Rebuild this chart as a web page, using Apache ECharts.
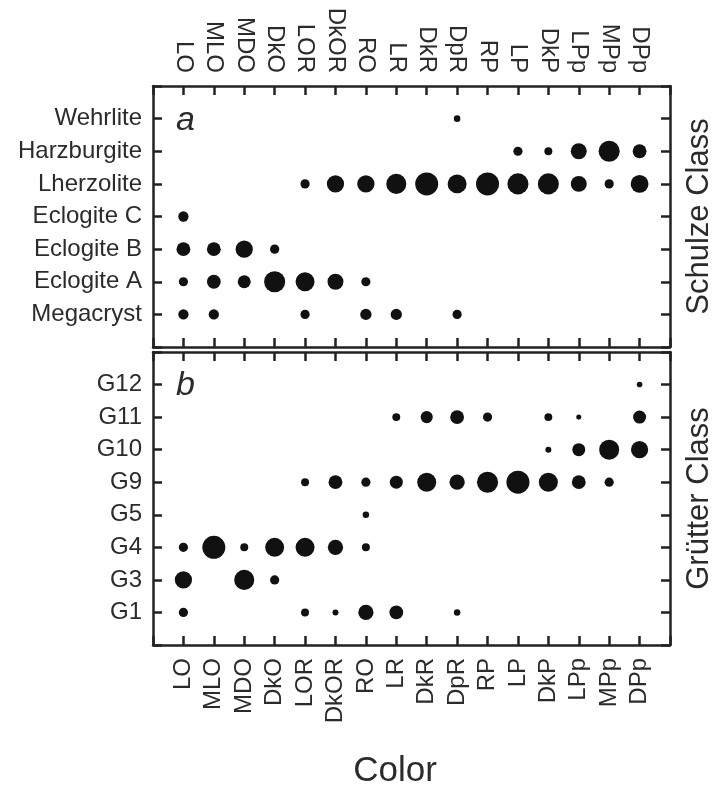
<!DOCTYPE html>
<html>
<head>
<meta charset="utf-8">
<script src="https://cdn.jsdelivr.net/npm/echarts@6/dist/echarts.min.js"></script>
<style>
  html, body { margin: 0; padding: 0; background: #fff; }
  #chart { width: 715px; height: 789px; }
</style>
</head>
<body>
<div id="chart"></div>
<script>
// colour categories (x axis)
var colors = ['LO', 'MLO', 'MDO', 'DkO', 'LOR', 'DkOR', 'RO', 'LR', 'DkR', 'DpR', 'RP', 'LP', 'DkP', 'LPp', 'MPp', 'DPp']
// classes, bottom to top
var schulzeClasses = ['Megacryst', 'Eclogite A', 'Eclogite B', 'Eclogite C', 'Lherzolite', 'Harzburgite', 'Wehrlite']
var grutterClasses = ['G1', 'G3', 'G4', 'G5', 'G9', 'G10', 'G11', 'G12']

// [colour, class, relative abundance]
var schulzeData = [
  ['DpR', 'Wehrlite', 2],
  ['LP', 'Harzburgite', 4], ['DkP', 'Harzburgite', 3], ['LPp', 'Harzburgite', 12], ['MPp', 'Harzburgite', 21], ['DPp', 'Harzburgite', 9],
  ['LOR', 'Lherzolite', 4], ['DkOR', 'Lherzolite', 14], ['RO', 'Lherzolite', 14], ['LR', 'Lherzolite', 19], ['DkR', 'Lherzolite', 25],
  ['DpR', 'Lherzolite', 17], ['RP', 'Lherzolite', 25], ['LP', 'Lherzolite', 21], ['DkP', 'Lherzolite', 21], ['LPp', 'Lherzolite', 12],
  ['MPp', 'Lherzolite', 4], ['DPp', 'Lherzolite', 15],
  ['LO', 'Eclogite C', 5],
  ['LO', 'Eclogite B', 9], ['MLO', 'Eclogite B', 9], ['MDO', 'Eclogite B', 14], ['DkO', 'Eclogite B', 4],
  ['LO', 'Eclogite A', 4], ['MLO', 'Eclogite A', 9], ['MDO', 'Eclogite A', 8], ['DkO', 'Eclogite A', 21], ['LOR', 'Eclogite A', 17],
  ['DkOR', 'Eclogite A', 12], ['RO', 'Eclogite A', 4],
  ['LO', 'Megacryst', 5], ['MLO', 'Megacryst', 5], ['LOR', 'Megacryst', 4], ['RO', 'Megacryst', 6], ['LR', 'Megacryst', 6], ['DpR', 'Megacryst', 4]
]

var grutterData = [
  ['DPp', 'G12', 1.5],
  ['LR', 'G11', 3], ['DkR', 'G11', 7], ['DpR', 'G11', 9], ['RP', 'G11', 4], ['DkP', 'G11', 3], ['LPp', 'G11', 1.2], ['DPp', 'G11', 8],
  ['DkP', 'G10', 1.7], ['LPp', 'G10', 8], ['MPp', 'G10', 19], ['DPp', 'G10', 14],
  ['LOR', 'G9', 3], ['DkOR', 'G9', 9], ['RO', 'G9', 4], ['LR', 'G9', 8], ['DkR', 'G9', 17], ['DpR', 'G9', 11], ['RP', 'G9', 21],
  ['LP', 'G9', 25], ['DkP', 'G9', 17], ['LPp', 'G9', 9], ['MPp', 'G9', 4],
  ['RO', 'G5', 2],
  ['LO', 'G4', 4], ['MLO', 'G4', 25], ['MDO', 'G4', 3], ['DkO', 'G4', 17], ['LOR', 'G4', 17], ['DkOR', 'G4', 11], ['RO', 'G4', 3],
  ['LO', 'G3', 14], ['MDO', 'G3', 19], ['DkO', 'G3', 4],
  ['LO', 'G1', 4], ['LOR', 'G1', 3], ['DkOR', 'G1', 1.7], ['RO', 'G1', 11], ['LR', 'G1', 9], ['DpR', 'G1', 2]
]

var FONT = 'Liberation Sans'
var INK = '#2b2b2b'
var LINE = '#222'

// blank ends keep one empty slot at each side of the box
var padded = function (arr) { return [''].concat(arr, ['']) }

var xAxisOf = function (grid, pos, showLabels) {
  return {
    type: 'category', gridIndex: grid, position: pos, data: padded(colors), boundaryGap: false,
    axisLine: { show: true, lineStyle: { color: LINE, width: 2.5 } },
    axisTick: { show: true, inside: true, length: 9, interval: 0, lineStyle: { color: LINE, width: 2.5 } },
    axisLabel: { show: showLabels, interval: 0, rotate: 90, margin: 13, fontSize: 24, fontFamily: FONT, color: INK },
    splitLine: { show: false }
  }
}

var yAxisOf = function (grid, pos, cats, showLabels, name) {
  return {
    type: 'category', gridIndex: grid, position: pos, data: padded(cats), boundaryGap: false,
    name: name || '', nameLocation: 'middle', nameGap: 14,
    nameTextStyle: { fontSize: 31, fontFamily: FONT, color: INK },
    axisLine: { show: true, lineStyle: { color: LINE, width: 2.5 } },
    axisTick: { show: true, inside: true, length: 9, interval: 0, lineStyle: { color: LINE, width: 2.5 } },
    axisLabel: { show: showLabels, interval: 0, margin: 11, fontSize: 24, fontFamily: FONT, color: INK },
    splitLine: { show: false }
  }
}

var dotSize = function (v) { return 4.6 * Math.sqrt(v[2]) }

var chart = echarts.init(document.getElementById('chart'), null, { renderer: 'canvas' })
chart.setOption({
  backgroundColor: '#fff',
  animation: false,
  grid: [
    { left: 153, width: 517, top: 86, height: 261, outerBoundsMode: 'none', containLabel: false },
    { left: 153, width: 517, top: 352, height: 293, outerBoundsMode: 'none', containLabel: false }
  ],
  xAxis: [
    xAxisOf(0, 'top', true),
    xAxisOf(0, 'bottom', false),
    xAxisOf(1, 'top', false),
    xAxisOf(1, 'bottom', true)
  ],
  yAxis: [
    yAxisOf(0, 'left', schulzeClasses, true),
    yAxisOf(0, 'right', schulzeClasses, false, 'Schulze Class'),
    yAxisOf(1, 'left', grutterClasses, true),
    yAxisOf(1, 'right', grutterClasses, false, 'Grütter Class')
  ],
  series: [
    {
      type: 'scatter', xAxisIndex: 0, yAxisIndex: 0, data: schulzeData,
      symbolSize: dotSize, itemStyle: { color: '#111', opacity: 1 }
    },
    {
      type: 'scatter', xAxisIndex: 3, yAxisIndex: 2, data: grutterData,
      symbolSize: dotSize, itemStyle: { color: '#111', opacity: 1 }
    }
  ],
  graphic: [
    { type: 'text', left: 176, top: 104, style: { text: 'a', fontSize: 34, fontStyle: 'italic', fontFamily: FONT, fill: INK } },
    { type: 'text', left: 176, top: 369, style: { text: 'b', fontSize: 34, fontStyle: 'italic', fontFamily: FONT, fill: INK } },
    { type: 'text', x: 395, y: 771, style: { text: 'Color', fontSize: 35, fontFamily: FONT, fill: INK, align: 'center', verticalAlign: 'middle' } }
  ]
})
</script>
</body>
</html>
